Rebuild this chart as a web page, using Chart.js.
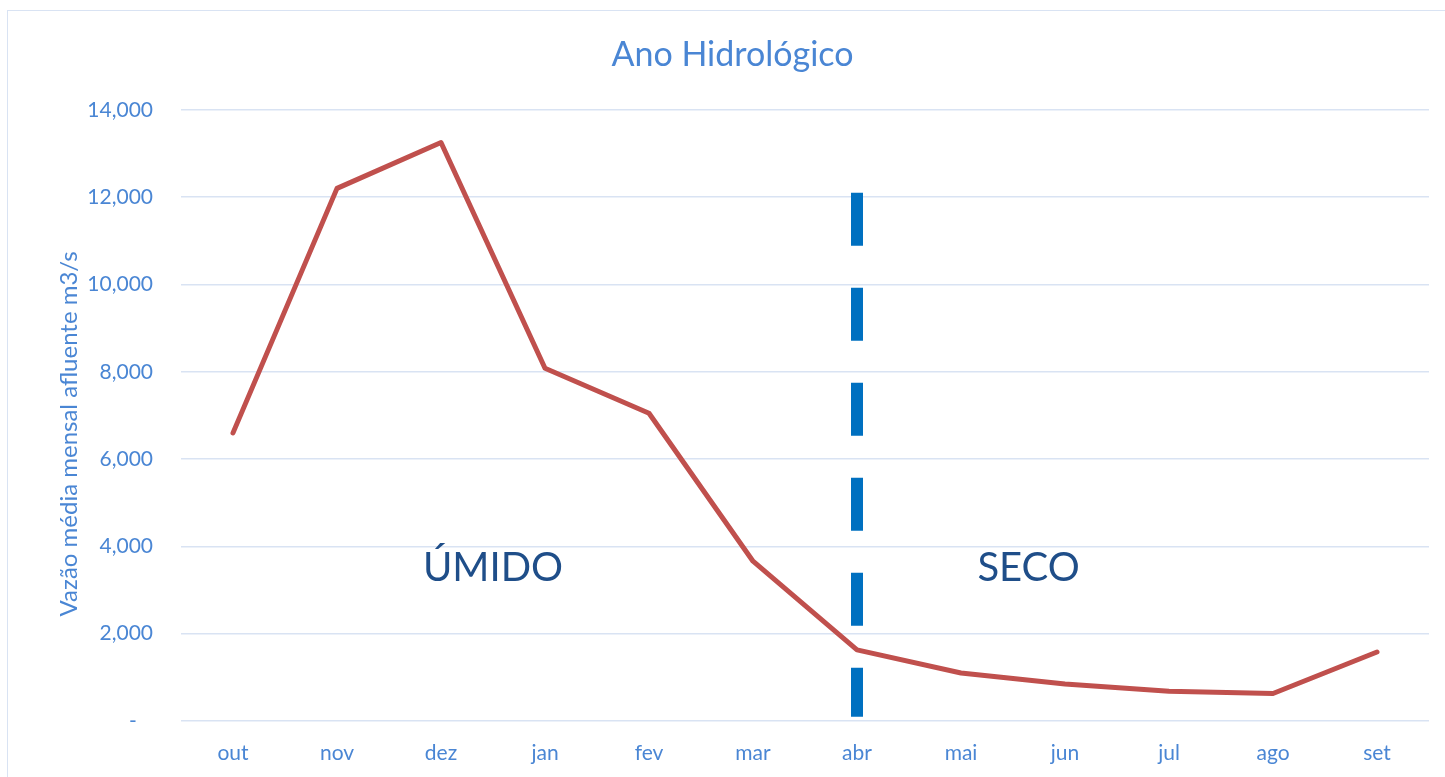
<!DOCTYPE html>
<html lang="pt">
<head>
<meta charset="utf-8">
<title>Ano Hidrológico</title>
<script src="https://cdn.jsdelivr.net/npm/chart.js@4.4.1/dist/chart.umd.min.js"></script>
<style>
  html, body { margin: 0; padding: 0; background: #fff; overflow: hidden; }
  #wrap { position: relative; width: 1445px; height: 777px; }
  #frame {
    position: absolute; left: 7px; top: 10px; width: 1460px; height: 800px;
    border: 1.5px solid #D9E3F3; box-sizing: border-box; pointer-events: none;
  }
</style>
</head>
<body>
<div id="wrap">
  <canvas id="chart" width="1445" height="777"></canvas>
  <div id="frame"></div>
</div>
<script>
// months of the hydrological year (Oct -> Sep)
const MONTHS = ['out', 'nov', 'dez', 'jan', 'fev', 'mar', 'abr', 'mai', 'jun', 'jul', 'ago', 'set'];
// mean monthly inflow, m3/s
const FLOW = [6600, 12200, 13250, 8080, 7050, 3660, 1630, 1100, 850, 680, 630, 1580];

const Y_TICKS = [0, 2000, 4000, 6000, 8000, 10000, 12000, 14000];

// wet / dry split at April
const DIVIDER_MONTH = 'abr';
const DIVIDER_RANGE = [12100, 100];

const REGION_LABELS = ['ÚMIDO', 'SECO'];
const REGION_AT = [2.5, 7.65];   // category index
const REGION_Y = 3500;

const BLUE_TXT = '#4A86D4';
const NAVY = '#1F4E89';
const RED = '#C0504D';
const DIVIDER = '#0070C0';
const GRID = '#D9E3F3';
const FONT = "Lato, 'Open Sans', sans-serif";

const regionText = {
  id: 'regionText',
  afterDatasetsDraw(chart) {
    const { ctx, scales: { x, y } } = chart;
    ctx.save();
    ctx.font = '40px ' + FONT;
    ctx.fillStyle = NAVY;
    ctx.textAlign = 'center';
    ctx.textBaseline = 'middle';
    REGION_LABELS.forEach((t, i) => {
      ctx.fillText(t, x.getPixelForValue(REGION_AT[i]), y.getPixelForValue(REGION_Y));
    });
    ctx.restore();
  }
};

new Chart(document.getElementById('chart'), {
  type: 'line',
  data: {
    labels: MONTHS,
    datasets: [{
      label: 'divisor',
      data: DIVIDER_RANGE.map(v => ({ x: DIVIDER_MONTH, y: v })),
      borderColor: DIVIDER,
      borderWidth: 12,
      borderDash: [53, 42],
      borderCapStyle: 'butt',
      pointRadius: 0,
      fill: false,
    }, {
      label: 'Vazão',
      data: FLOW,
      borderColor: RED,
      borderWidth: 5,
      borderCapStyle: 'round',
      borderJoinStyle: 'round',
      pointRadius: 0,
      tension: 0,
      fill: false,
    }],
  },
  options: {
    responsive: false,
    animation: false,
    layout: { padding: { left: 36, right: 16, top: 0, bottom: 0 } },
    plugins: {
      legend: { display: false },
      tooltip: { enabled: false },
      title: {
        display: true,
        text: 'Ano Hidrológico',
        color: BLUE_TXT,
        font: { family: FONT, size: 34, weight: 'normal' },
        padding: { top: 35, bottom: 34 },
      },
    },
    scales: {
      x: {
        type: 'category',
        offset: true,
        grid: { display: false },
        border: { display: false },
        ticks: { color: BLUE_TXT, font: { family: FONT, size: 21 }, padding: 12, maxRotation: 0 },
        afterFit(s) { s.height = 56; },
      },
      y: {
        min: 0,
        max: 14000,
        afterBuildTicks(s) { s.ticks = Y_TICKS.map(v => ({ value: v })); },
        grid: { color: GRID, lineWidth: 1.5, drawTicks: false },
        border: { display: false },
        ticks: {
          color: BLUE_TXT,
          font: { family: FONT, size: 21 },
          padding: 28,
          callback: v => v === 0 ? '-   ' : v.toLocaleString('en-US'),
        },
        title: {
          display: true,
          text: 'Vazão média mensal afluente m3/s      ',
          color: BLUE_TXT,
          font: { family: FONT, size: 24 },
          padding: { top: 19, bottom: 0 },
        },
        afterFit(s) { s.width = 145; },
      },
    },
  },
  plugins: [regionText],
});
</script>
</body>
</html>
